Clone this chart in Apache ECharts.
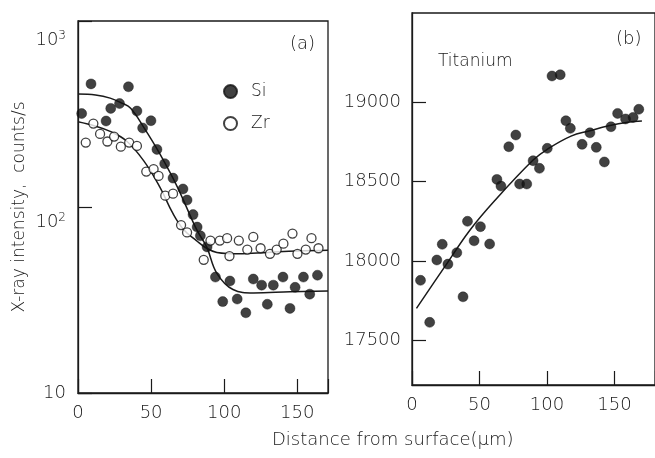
<!DOCTYPE html>
<html><head><meta charset="utf-8">
<script src="https://cdn.jsdelivr.net/npm/echarts@6/dist/echarts.min.js"></script>
<style>html,body{margin:0;padding:0;background:#fff}#c{width:655px;height:458px}</style>
</head><body><div id="c"></div>
<script>
// ---- Panel (a): Si and Zr X-ray intensity (counts/s) vs distance (µm)
const siDistance = [2.5, 8.9, 19.2, 22.4, 28.4, 34.5, 40.3, 44.2, 49.9, 54, 59.3, 65, 71.8, 74.6, 78.7, 81.5, 83.7, 88.3, 94, 99, 103.9, 108.9, 114.8, 119.9, 125.6, 129.5, 133.6, 140.2, 145, 148.5, 154.2, 158.5, 163.8];
const siCounts   = [318, 459, 290, 339, 360, 443, 328, 266, 291, 204, 171, 143, 125, 109, 91, 78, 70, 61, 42, 31, 40, 32, 27, 41, 38, 30, 38, 42, 28.5, 37, 42, 34, 43];
const zrDistance = [5.3, 10.5, 15.1, 20.1, 24.7, 29.3, 35, 40.3, 46.7, 51.7, 55.1, 59.7, 65, 70.5, 74.6, 86, 90.6, 97, 102, 103.6, 110, 115.8, 119.9, 124.9, 131.3, 135.9, 140.5, 146.7, 150.1, 155.8, 159.7, 164.5];
const zrCounts   = [222, 281, 247, 225, 239, 211, 222, 213, 155, 160, 147, 115, 118, 80, 73, 52, 66, 66, 68, 54.5, 66, 59, 69, 60, 56, 59, 63.5, 72, 56, 59, 68, 60];
const siFitDistance = [0, 12, 22, 30, 36, 45, 56, 68, 81, 88, 95, 106, 120, 145, 171];
const siFitCounts   = [405, 400, 385, 362, 340, 268, 193, 128, 76, 61, 44, 36, 34.5, 35, 35.4];
const zrFitDistance = [0, 12, 22, 33, 45, 56, 65, 72, 81, 88, 95, 110, 130, 150, 171];
const zrFitCounts   = [287, 272, 255, 227, 177, 128, 92, 76, 66, 60, 57, 56, 57, 58, 58.5];
const aXTicks = [0, 50, 100, 150];
const aYTicks = [10, 100, 1000];

// ---- Panel (b): Titanium counts vs distance (µm)
const tiDistance = [6.3, 13.1, 18.4, 22.4, 26.6, 33.2, 37.8, 41.1, 46, 50.7, 57.5, 62.9, 65.9, 71.7, 76.9, 79.7, 85, 89.7, 94.4, 100.2, 103.7, 109.8, 114, 117.3, 126, 131.8, 136.5, 142.5, 147.4, 152.3, 158.2, 163.8, 168];
const tiCounts   = [17878, 17613, 18006, 18105, 17980, 18052, 17774, 18250, 18127, 18216, 18107, 18514, 18472, 18720, 18794, 18485, 18485, 18632, 18584, 18710, 19166, 19174, 18884, 18836, 18735, 18808, 18716, 18624, 18846, 18930, 18895, 18905, 18956];
const tiFitDistance = [3.3, 24.3, 43, 61.7, 89.7, 100.2, 117.8, 131.8, 145.8, 159.8, 170.3];
const tiFitCounts   = [17701, 17964, 18195, 18384, 18636, 18704, 18787, 18821, 18852, 18874, 18882];
const bYTicks = [17500, 18000, 18500, 19000];

const pairs = (xs, ys) => xs.map((x, i) => [x, ys[i]]);
const FONT = 'DejaVu Sans';
const INK = '#1a1a1a';
const axisLineStyle = { lineStyle: { color: INK, width: 1.3 } };
const tickStyle = { show: true, inside: true, length: 14, lineStyle: { color: INK, width: 1.2 } };
const lblStyle = { color: INK, fontFamily: FONT, fontSize: 18, fontWeight: 300, formatter: v => String(v) };

const chart = echarts.init(document.getElementById('c'), null, { renderer: 'canvas' });
chart.setOption({
  animation: false,
  backgroundColor: '#fff',
  textStyle: { fontFamily: FONT },
  grid: [
    { left: 78, top: 21, width: 250, height: 372, show: true, borderColor: INK, borderWidth: 1.3, backgroundColor: 'transparent' },
    { left: 412, top: 13, width: 257, height: 372, show: true, borderColor: INK, borderWidth: 1.3, backgroundColor: 'transparent' }
  ],
  legend: {
    data: ['Si', 'Zr'], orient: 'vertical', left: 218, top: 78, itemGap: 15,
    itemWidth: 13, itemHeight: 13, icon: 'circle',
    textStyle: { color: INK, fontFamily: FONT, fontSize: 17, fontWeight: 300, padding: [0, 0, 0, 9] }
  },
  xAxis: [
    { gridIndex: 0, type: 'value', min: 0, max: 171, interval: 50,
      axisLine: axisLineStyle, axisTick: tickStyle, splitLine: { show: false },
      axisLabel: Object.assign({}, lblStyle, { margin: 11, customValues: aXTicks }) },
    { gridIndex: 1, type: 'value', min: 0, max: 180, interval: 50,
      axisLine: axisLineStyle, axisTick: tickStyle, splitLine: { show: false },
      axisLabel: Object.assign({}, lblStyle, { margin: 11, customValues: aXTicks }) }
  ],
  yAxis: [
    { gridIndex: 0, type: 'log', logBase: 10, min: 10, max: 1000,
      axisLine: axisLineStyle, axisTick: tickStyle, splitLine: { show: false },
      name: 'X-ray intensity,  counts/s', nameLocation: 'middle', nameGap: 50, nameRotate: 90,
      nameTextStyle: { color: INK, fontFamily: FONT, fontSize: 17, fontWeight: 300 },
      axisLabel: Object.assign({}, lblStyle, { margin: 12, customValues: aYTicks,
        formatter: v => v >= 999 ? '{e3| }\n{n|10}{s|3}' : (v >= 99 ? '{e2| }\n{n|10}{s|2}' : '{n|10}'),
        rich: {
          n: { fontSize: 18, fontFamily: FONT, fontWeight: 300, color: INK, lineHeight: 20 },
          s: { fontSize: 12, fontFamily: FONT, fontWeight: 300, color: INK, lineHeight: 12, verticalAlign: 'top', padding: [0, 0, 8, 0] },
          e3: { fontSize: 2, lineHeight: 38 },
          e2: { fontSize: 2, lineHeight: 30 }
        } }) },
    { gridIndex: 1, type: 'value', min: 17218, max: 19563,
      axisLine: axisLineStyle, splitLine: { show: false },
      axisTick: Object.assign({}, tickStyle, { customValues: bYTicks }),
      axisLabel: Object.assign({}, lblStyle, { margin: 11, customValues: bYTicks }) }
  ],
  series: [
    { name: 'Si', type: 'scatter', xAxisIndex: 0, yAxisIndex: 0, data: pairs(siDistance, siCounts),
      symbol: 'circle', symbolSize: 10, itemStyle: { color: '#111', borderColor: '#111', borderWidth: 0.5 } },
    { name: 'Zr', type: 'scatter', xAxisIndex: 0, yAxisIndex: 0, data: pairs(zrDistance, zrCounts),
      symbol: 'circle', symbolSize: 9, itemStyle: { color: '#fff', borderColor: '#111', borderWidth: 1.3 } },
    { name: 'Si fit', type: 'line', xAxisIndex: 0, yAxisIndex: 0, data: pairs(siFitDistance, siFitCounts),
      smooth: 0.4, showSymbol: false, lineStyle: { color: INK, width: 1.5 }, z: 1 },
    { name: 'Zr fit', type: 'line', xAxisIndex: 0, yAxisIndex: 0, data: pairs(zrFitDistance, zrFitCounts),
      smooth: 0.4, showSymbol: false, lineStyle: { color: INK, width: 1.5 }, z: 1 },
    { name: 'Ti', type: 'scatter', xAxisIndex: 1, yAxisIndex: 1, data: pairs(tiDistance, tiCounts),
      symbol: 'circle', symbolSize: 10, itemStyle: { color: '#111', borderColor: '#111', borderWidth: 0.5 } },
    { name: 'Ti fit', type: 'line', xAxisIndex: 1, yAxisIndex: 1, data: pairs(tiFitDistance, tiFitCounts),
      smooth: 0.4, showSymbol: false, lineStyle: { color: INK, width: 1.5 }, z: 1 }
  ],
  graphic: [
    { type: 'text', left: 290, top: 35, style: { text: '(a)', font: '300 18px "DejaVu Sans"', fill: INK } },
    { type: 'text', left: 616, top: 30, style: { text: '(b)', font: '300 18px "DejaVu Sans"', fill: INK } },
    { type: 'text', left: 438, top: 53, style: { text: 'Titanium', font: '300 17px "DejaVu Sans"', fill: INK } },
    { type: 'text', left: 272, top: 431, style: { text: 'Distance from surface(µm)', font: '300 18px "DejaVu Sans"', fill: INK } }
  ]
});
</script></body></html>
